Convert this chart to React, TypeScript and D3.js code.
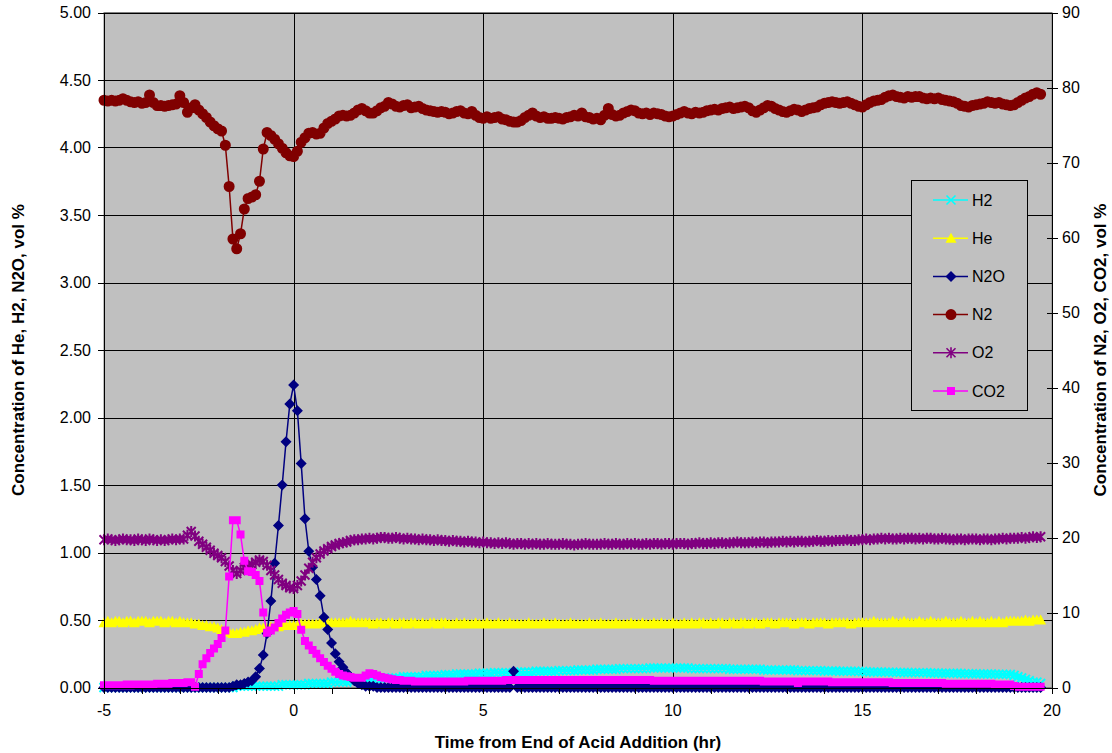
import * as d3 from 'd3';
import { useEffect, useRef } from 'react';

// samples every 0.1 hr starting at -5 hr (one row per hour)
const START_HR = -5;
const STEP_HR = 0.1;

// left axis, vol %
const h2 = [
  0, 0, 0, 0, 0, 0, 0, 0, 0, 0,
  0, 0, 0, 0, 0, 0, 0, 0, 0, 0,
  0, 0, 0, 0, 0, 0, 0, 0, 0, 0,
  0, 0, 0, 0, 0, 0.01, 0.01, 0.01, 0.01, 0.01,
  0.01, 0.01, 0.01, 0.01, 0.01, 0.01, 0.01, 0.02, 0.02, 0.02,
  0.02, 0.02, 0.02, 0.02, 0.03, 0.03, 0.03, 0.03, 0.03, 0.03,
  0.04, 0.04, 0.04, 0.04, 0.04, 0.05, 0.05, 0.05, 0.05, 0.05,
  0.06, 0.06, 0.06, 0.06, 0.07, 0.07, 0.07, 0.07, 0.07, 0.08,
  0.08, 0.08, 0.08, 0.08, 0.08, 0.09, 0.09, 0.09, 0.09, 0.09,
  0.095, 0.095, 0.095, 0.1, 0.1, 0.1, 0.1, 0.1, 0.1, 0.105,
  0.105, 0.105, 0.105, 0.11, 0.11, 0.11, 0.11, 0.11, 0.11, 0.11,
  0.115, 0.115, 0.115, 0.115, 0.12, 0.12, 0.12, 0.12, 0.12, 0.12,
  0.125, 0.125, 0.125, 0.125, 0.125, 0.13, 0.13, 0.13, 0.13, 0.13,
  0.135, 0.135, 0.135, 0.135, 0.135, 0.135, 0.14, 0.14, 0.14, 0.14,
  0.14, 0.14, 0.14, 0.14, 0.145, 0.145, 0.145, 0.145, 0.145, 0.145,
  0.145, 0.145, 0.145, 0.145, 0.145, 0.14, 0.14, 0.14, 0.14, 0.14,
  0.14, 0.14, 0.14, 0.14, 0.14, 0.135, 0.135, 0.135, 0.135, 0.135,
  0.135, 0.135, 0.135, 0.135, 0.13, 0.13, 0.13, 0.13, 0.13, 0.13,
  0.13, 0.13, 0.13, 0.125, 0.125, 0.125, 0.125, 0.125, 0.125, 0.125,
  0.122, 0.122, 0.122, 0.122, 0.12, 0.12, 0.12, 0.12, 0.12, 0.118,
  0.118, 0.117, 0.116, 0.115, 0.115, 0.115, 0.114, 0.114, 0.113, 0.112,
  0.112, 0.111, 0.111, 0.11, 0.11, 0.11, 0.11, 0.109, 0.108, 0.108,
  0.107, 0.106, 0.106, 0.105, 0.105, 0.105, 0.104, 0.103, 0.103, 0.102,
  0.102, 0.101, 0.1, 0.1, 0.1, 0.099, 0.098, 0.098, 0.097, 0.096,
  0.09, 0.08, 0.07, 0.06, 0.05, 0.04, 0.04, 0.03
];

const he = [
  0.48, 0.49, 0.48, 0.49, 0.49, 0.48, 0.49, 0.49, 0.48, 0.49,
  0.49, 0.49, 0.48, 0.49, 0.49, 0.49, 0.48, 0.49, 0.49, 0.48,
  0.49, 0.48, 0.48, 0.48, 0.47, 0.47, 0.46, 0.46, 0.45, 0.45,
  0.44, 0.43, 0.42, 0.41, 0.4, 0.4, 0.41, 0.41, 0.42, 0.42,
  0.43, 0.44, 0.44, 0.44, 0.45, 0.45, 0.45, 0.46, 0.46, 0.46,
  0.46, 0.46, 0.47, 0.47, 0.47, 0.47, 0.47, 0.48, 0.48, 0.48,
  0.48, 0.48, 0.48, 0.48, 0.48, 0.49, 0.48, 0.48, 0.48, 0.48,
  0.48, 0.47, 0.48, 0.48, 0.47, 0.48, 0.48, 0.47, 0.48, 0.48,
  0.47, 0.48, 0.48, 0.47, 0.48, 0.47, 0.48, 0.48, 0.47, 0.48,
  0.48, 0.47, 0.47, 0.48, 0.47, 0.48, 0.47, 0.47, 0.48, 0.47,
  0.47, 0.48, 0.47, 0.47, 0.48, 0.47, 0.47, 0.48, 0.47, 0.47,
  0.47, 0.47, 0.48, 0.47, 0.47, 0.47, 0.48, 0.47, 0.47, 0.48,
  0.47, 0.47, 0.47, 0.48, 0.47, 0.47, 0.47, 0.47, 0.48, 0.47,
  0.47, 0.48, 0.47, 0.47, 0.47, 0.48, 0.47, 0.47, 0.47, 0.48,
  0.47, 0.47, 0.48, 0.47, 0.47, 0.48, 0.47, 0.48, 0.47, 0.47,
  0.48, 0.47, 0.47, 0.48, 0.47, 0.48, 0.47, 0.48, 0.48, 0.47,
  0.48, 0.47, 0.48, 0.48, 0.47, 0.48, 0.48, 0.47, 0.48, 0.48,
  0.47, 0.48, 0.48, 0.47, 0.48, 0.48, 0.48, 0.47, 0.48, 0.48,
  0.48, 0.48, 0.47, 0.48, 0.48, 0.48, 0.47, 0.48, 0.48, 0.48,
  0.48, 0.47, 0.48, 0.48, 0.48, 0.48, 0.48, 0.47, 0.48, 0.48,
  0.48, 0.48, 0.48, 0.49, 0.48, 0.48, 0.48, 0.48, 0.49, 0.48,
  0.48, 0.49, 0.48, 0.48, 0.48, 0.49, 0.48, 0.48, 0.49, 0.48,
  0.48, 0.48, 0.49, 0.48, 0.48, 0.48, 0.49, 0.48, 0.48, 0.49,
  0.48, 0.49, 0.48, 0.48, 0.49, 0.48, 0.49, 0.48, 0.49, 0.49,
  0.49, 0.49, 0.49, 0.5, 0.49, 0.5, 0.5, 0.5
];

const n2o = [
  0, 0, 0, 0, 0, 0, 0, 0, 0, 0,
  0, 0, 0, 0, 0, 0, 0, 0, 0, 0,
  0, 0, 0, 0, 0, 0, 0, 0, 0, 0,
  0, 0, 0, 0, 0.01, 0.02, 0.02, 0.03, 0.04, 0.05,
  0.08, 0.14, 0.24, 0.4, 0.64, 0.92, 1.2, 1.5, 1.82, 2.1,
  2.24, 2.05, 1.66, 1.25, 1.01, 0.89, 0.8, 0.68, 0.52, 0.43,
  0.33, 0.25, 0.19, 0.15, 0.11, 0.08, 0.05, 0.03, 0.02, 0.01,
  0.01, 0.01, 0, 0, 0, 0, 0, 0, 0, 0,
  0, 0, 0, 0, 0, 0, 0, 0, 0, 0,
  0, 0, 0, 0, 0, 0, 0, 0, 0, 0,
  0, 0, 0, 0, 0, 0, 0, 0, 0.12, 0,
  0, 0, 0, 0, 0, 0, 0, 0, 0, 0,
  0, 0, 0, 0, 0, 0, 0, 0, 0, 0,
  0, 0, 0, 0, 0, 0, 0, 0, 0, 0,
  0, 0, 0, 0, 0, 0, 0, 0, 0, 0,
  0, 0, 0, 0, 0, 0, 0, 0, 0, 0,
  0, 0, 0, 0, 0, 0, 0, 0, 0, 0,
  0, 0, 0, 0, 0, 0, 0, 0, 0, 0,
  0, 0, 0, 0, 0, 0, 0, 0, 0, 0,
  0, 0, 0, 0, 0, 0, 0, 0, 0, 0,
  0, 0, 0, 0, 0, 0, 0, 0, 0, 0,
  0, 0, 0, 0, 0, 0, 0, 0, 0, 0,
  0, 0, 0, 0, 0, 0, 0, 0, 0, 0,
  0, 0, 0, 0, 0, 0, 0, 0, 0, 0,
  0, 0, 0, 0, 0, 0, 0, 0
];

// right axis, vol %
const n2 = [
  78.3, 78.2, 78.3, 78.2, 78.3, 78.5, 78.3, 78.1, 78.0, 78.1,
  77.9, 78.0, 79.0, 78.0, 77.6, 77.6, 77.5, 77.6, 77.7, 77.8,
  78.9, 78.0, 76.7, 77.3, 77.7, 77.0, 76.5, 76.0, 75.4, 74.9,
  74.5, 74.2, 72.3, 66.8, 59.8, 58.5, 60.5, 63.8, 65.2, 65.4,
  65.7, 67.5, 71.8, 74.0, 73.6, 73.1, 72.5, 71.9, 71.3, 70.9,
  70.8, 71.5, 72.7, 73.3, 73.9, 74.0, 73.8, 73.9, 74.6, 75.2,
  75.5, 75.8, 76.2, 76.3, 76.2, 76.3, 76.6, 77.0, 77.2, 76.9,
  76.6, 76.6, 76.9, 77.3, 77.5, 78.0, 77.8, 77.5, 77.4, 77.6,
  77.7, 77.3, 77.4, 77.5, 77.2, 77.0, 76.9, 76.8, 76.7, 76.8,
  76.7, 76.5, 76.6, 76.8, 76.9, 76.6, 76.5, 76.8, 76.3, 76.0,
  75.9, 76.1, 75.9, 76.0, 76.1, 75.8, 75.7, 75.5, 75.4, 75.4,
  75.6, 76.0, 76.3, 76.6, 76.2, 76.0, 76.1, 75.9, 75.9, 76.0,
  75.9, 75.8, 76.0, 76.1, 76.3, 76.2, 76.6, 76.1, 76.0, 75.8,
  75.9, 75.7, 76.3, 77.2, 76.4, 76.2, 76.3, 76.6, 76.8, 77.0,
  76.9, 76.6, 76.5, 76.6, 76.4, 76.6, 76.5, 76.4, 76.2, 76.1,
  76.2, 76.4, 76.6, 76.8, 76.6, 76.5, 76.7, 76.6, 76.7, 76.9,
  77.0, 77.1, 77.0, 77.2, 77.3, 77.4, 77.2, 77.3, 77.4, 77.5,
  77.3, 76.9, 76.7, 77.0, 77.3, 77.6, 77.5, 77.2, 77.0, 76.8,
  76.7, 76.9, 77.1, 77.0, 76.8, 77.0, 77.2, 77.3, 77.4, 77.7,
  77.9, 78.0, 78.1, 78.0, 77.9, 78.0, 78.1, 77.9, 77.7, 77.5,
  77.4, 77.7, 78.0, 78.2, 78.3, 78.4, 78.7, 78.9, 79.0, 78.8,
  78.7, 78.6, 78.8, 78.7, 78.8, 78.8, 78.6, 78.5, 78.6, 78.5,
  78.6, 78.4, 78.3, 78.2, 78.1, 77.9, 77.6, 77.5, 77.4, 77.6,
  77.7, 77.8, 77.9, 78.1, 78.0, 77.9, 78.0, 77.8, 77.7, 77.6,
  77.7, 78.0, 78.3, 78.6, 78.8, 79.1, 79.3, 79.1
];

const o2 = [
  19.7, 19.8, 19.7, 19.6, 19.7, 19.8, 19.7, 19.7, 19.6, 19.8,
  19.7, 19.6, 19.8, 19.7, 19.6, 19.7, 19.6, 19.7, 19.8, 19.7,
  19.8, 19.8, 20.3, 20.8, 20.2, 19.5, 19.1, 18.7, 18.3, 17.9,
  17.6, 17.3, 16.8, 16.2, 15.6, 15.2, 15.6, 16.0, 16.3, 16.4,
  16.7, 17.0, 16.8, 16.3, 15.6, 15.0, 14.4, 13.9, 13.6, 13.3,
  13.2, 13.6, 14.2, 15.0, 15.9, 16.7, 17.3, 17.8, 18.2, 18.5,
  18.8, 19.0, 19.2, 19.3, 19.4, 19.6, 19.7, 19.7, 19.8, 19.8,
  19.9, 19.8, 19.9, 20.0, 20.0, 19.9, 19.9, 20.0, 19.9, 19.8,
  19.9, 19.8, 19.8, 19.7, 19.8, 19.7, 19.7, 19.6, 19.7, 19.6,
  19.6, 19.5, 19.6, 19.5, 19.5, 19.4, 19.5, 19.4, 19.4, 19.3,
  19.4, 19.3, 19.3, 19.2, 19.3, 19.2, 19.3, 19.2, 19.1, 19.2,
  19.2, 19.1, 19.2, 19.1, 19.2, 19.1, 19.1, 19.2, 19.1, 19.1,
  19.1, 19.2, 19.1, 19.1, 19.0, 19.1, 19.1, 19.2, 19.1, 19.1,
  19.1, 19.1, 19.2, 19.1, 19.1, 19.2, 19.1, 19.1, 19.2, 19.1,
  19.2, 19.1, 19.1, 19.2, 19.1, 19.2, 19.2, 19.1, 19.2, 19.2,
  19.1, 19.2, 19.2, 19.2, 19.1, 19.2, 19.2, 19.3, 19.2, 19.2,
  19.3, 19.2, 19.3, 19.3, 19.2, 19.3, 19.3, 19.4, 19.3, 19.3,
  19.3, 19.4, 19.3, 19.4, 19.4, 19.3, 19.4, 19.4, 19.4, 19.5,
  19.4, 19.5, 19.4, 19.5, 19.5, 19.4, 19.5, 19.5, 19.6, 19.5,
  19.5, 19.6, 19.5, 19.6, 19.6, 19.6, 19.7, 19.6, 19.6, 19.7,
  19.7, 19.8, 19.7, 19.8, 19.8, 19.9, 19.8, 19.9, 19.8, 19.8,
  19.9, 19.8, 19.9, 19.9, 19.8, 19.9, 19.8, 19.9, 19.9, 19.8,
  19.8, 19.9, 19.8, 19.8, 19.7, 19.8, 19.8, 19.7, 19.8, 19.8,
  19.8, 19.7, 19.8, 19.8, 19.7, 19.8, 19.8, 19.9, 19.8, 19.9,
  19.9, 19.9, 20.0, 19.9, 20.0, 20.1, 20.0, 20.1
];

const co2 = [
  0.3, 0.3, 0.3, 0.3, 0.3, 0.3, 0.4, 0.3, 0.4, 0.4,
  0.4, 0.4, 0.4, 0.4, 0.5, 0.5, 0.5, 0.5, 0.6, 0.6,
  0.6, 0.6, 0.7, 0.7, 0.1, 1.8, 3.1, 3.9, 4.6, 5.2,
  5.8, 6.6, 7.6, 14.8, 22.3, 22.3, 20.4, 16.9, 15.5, 15.4,
  15.0, 14.2, 10.0, 7.3, 7.6, 8.0, 8.6, 9.2, 9.7, 10.0,
  10.2, 9.8, 7.7, 6.2, 5.6, 5.0, 4.5, 3.9, 3.4, 2.9,
  2.5, 2.1, 1.8, 1.6, 1.5, 1.4, 1.3, 1.3, 1.3, 1.6,
  1.9, 1.8, 1.6, 1.4, 1.3, 1.2, 1.1, 1.0, 1.0, 0.9,
  0.9, 0.9, 0.8, 0.8, 0.8, 0.8, 0.8, 0.8, 0.8, 0.8,
  0.8, 0.8, 0.8, 0.8, 0.8, 0.8, 0.9, 0.9, 0.9, 0.9,
  0.9, 0.9, 0.9, 0.9, 0.9, 0.9, 1.0, 1.0, 1.0, 1.0,
  1.0, 1.0, 1.0, 1.0, 1.0, 1.0, 1.0, 1.0, 1.0, 1.0,
  1.0, 1.0, 1.0, 1.0, 1.0, 1.0, 1.0, 1.0, 1.0, 1.0,
  1.0, 1.0, 1.0, 1.0, 1.0, 1.0, 1.0, 1.0, 1.0, 1.0,
  1.0, 1.0, 1.0, 1.0, 1.0, 0.9, 0.9, 0.9, 0.9, 0.9,
  0.9, 0.9, 0.9, 0.9, 0.9, 0.9, 0.9, 0.9, 0.9, 0.9,
  0.9, 0.9, 0.9, 0.9, 0.9, 0.9, 0.9, 0.9, 0.9, 0.9,
  0.9, 0.9, 0.9, 0.9, 0.8, 0.8, 0.8, 0.8, 0.8, 0.8,
  0.8, 0.8, 0.8, 0.6, 0.8, 0.8, 0.8, 0.8, 0.8, 0.8,
  0.8, 0.8, 0.7, 0.7, 0.7, 0.7, 0.7, 0.7, 0.7, 0.7,
  0.7, 0.7, 0.7, 0.7, 0.7, 0.7, 0.7, 0.7, 0.6, 0.6,
  0.6, 0.6, 0.6, 0.6, 0.6, 0.6, 0.6, 0.6, 0.6, 0.6,
  0.6, 0.6, 0.5, 0.5, 0.5, 0.5, 0.5, 0.5, 0.5, 0.5,
  0.5, 0.5, 0.5, 0.5, 0.5, 0.4, 0.4, 0.4, 0.4, 0.4,
  0.2, 0.1, 0.1, 0.1, 0.1, 0.1, 0.1, 0.1
];

const xTicks = [-5, 0, 5, 10, 15, 20];
const xMinorTicks = d3.range(-5, 21, 1);
const leftTicks = [0, 0.5, 1, 1.5, 2, 2.5, 3, 3.5, 4, 4.5, 5];
const rightTicks = [0, 10, 20, 30, 40, 50, 60, 70, 80, 90];

const series = [
  { name: 'H2', values: h2, color: '#00FFFF', axis: 'left', marker: 'x' },
  { name: 'He', values: he, color: '#FFFF00', axis: 'left', marker: 'triangle' },
  { name: 'N2O', values: n2o, color: '#000080', axis: 'left', marker: 'diamond' },
  { name: 'N2', values: n2, color: '#800000', axis: 'right', marker: 'circle' },
  { name: 'O2', values: o2, color: '#800080', axis: 'right', marker: 'star' },
  { name: 'CO2', values: co2, color: '#FF00FF', axis: 'right', marker: 'square' }
];

const FONT = '"Liberation Sans", Arial, sans-serif';

function markerPath(kind: string, x: number, y: number) {
  switch (kind) {
    case 'x':
      return `M${x - 4.5},${y - 4.5}L${x + 4.5},${y + 4.5}M${x - 4.5},${y + 4.5}L${x + 4.5},${y - 4.5}`;
    case 'star':
      return `M${x - 4.5},${y - 4.5}L${x + 4.5},${y + 4.5}M${x - 4.5},${y + 4.5}L${x + 4.5},${y - 4.5}M${x},${y - 5.5}L${x},${y + 5.5}`;
    case 'triangle':
      return `M${x},${y - 5.5}L${x + 5.5},${y + 4.5}L${x - 5.5},${y + 4.5}Z`;
    case 'diamond':
      return `M${x},${y - 5.5}L${x + 5.5},${y}L${x},${y + 5.5}L${x - 5.5},${y}Z`;
    case 'square':
      return `M${x - 4},${y - 4}h8v8h-8Z`;
    default:
      return `M${x - 5.5},${y}a5.5,5.5 0 1,0 11,0a5.5,5.5 0 1,0 -11,0`;
  }
}

function isStroked(kind: string) {
  return kind === 'x' || kind === 'star';
}

export default function App() {
  const ref = useRef<SVGSVGElement>(null);

  useEffect(() => {
    const width = 1112;
    const height = 753;
    const left = 104, right = 1052, top = 12.5, bottom = 687.5;

    const svg = d3.select(ref.current);
    svg.selectAll('*').remove();
    svg.attr('width', width).attr('height', height);

    const x = d3.scaleLinear().domain([-5, 20]).range([left, right]);
    const yL = d3.scaleLinear().domain([0, 5]).range([bottom, top]);
    const yR = d3.scaleLinear().domain([0, 90]).range([bottom, top]);
    const crisp = (v: number) => Math.round(v) + 0.5;

    const time = n2.map((_, i) => START_HR + i * STEP_HR);

    // Plot area
    svg.append('rect')
      .attr('x', left)
      .attr('y', top)
      .attr('width', right - left)
      .attr('height', bottom - top)
      .attr('fill', '#C0C0C0')
      .attr('stroke', '#808080')
      .attr('stroke-width', 1);

    // Gridlines
    const grid = svg.append('g').attr('stroke', '#000').attr('stroke-width', 1).attr('shape-rendering', 'crispEdges');
    leftTicks.forEach(t => {
      grid.append('line').attr('x1', left).attr('x2', right).attr('y1', crisp(yL(t))).attr('y2', crisp(yL(t)));
    });
    xTicks.forEach(t => {
      grid.append('line').attr('x1', crisp(x(t))).attr('x2', crisp(x(t))).attr('y1', top).attr('y2', bottom);
    });

    // Series
    const plot = svg.append('g');
    series.forEach(s => {
      const yS = s.axis === 'left' ? yL : yR;
      const line = d3.line<number>()
        .x((_, i) => x(time[i]))
        .y(d => yS(d));
      plot.append('path')
        .attr('d', line(s.values))
        .attr('fill', 'none')
        .attr('stroke', s.color)
        .attr('stroke-width', 1.5);
      const d = s.values.map((v, i) => markerPath(s.marker, x(time[i]), yS(v))).join('');
      plot.append('path')
        .attr('d', d)
        .attr('fill', isStroked(s.marker) ? 'none' : s.color)
        .attr('stroke', isStroked(s.marker) ? s.color : 'none')
        .attr('stroke-width', isStroked(s.marker) ? 2 : 0);
    });

    // Axes
    const axes = svg.append('g').attr('stroke', '#000').attr('stroke-width', 1).attr('shape-rendering', 'crispEdges');
    axes.append('line').attr('x1', crisp(left)).attr('x2', crisp(left)).attr('y1', top).attr('y2', bottom);
    axes.append('line').attr('x1', crisp(right)).attr('x2', crisp(right)).attr('y1', top).attr('y2', bottom + 1);
    axes.append('line').attr('x1', left).attr('x2', right).attr('y1', crisp(bottom)).attr('y2', crisp(bottom));
    leftTicks.forEach(t => {
      axes.append('line').attr('x1', left - 6).attr('x2', left).attr('y1', crisp(yL(t))).attr('y2', crisp(yL(t)));
    });
    rightTicks.forEach(t => {
      axes.append('line').attr('x1', right - 5).attr('x2', right + 6).attr('y1', crisp(yR(t))).attr('y2', crisp(yR(t)));
    });
    xMinorTicks.forEach(t => {
      axes.append('line').attr('x1', crisp(x(t))).attr('x2', crisp(x(t))).attr('y1', bottom).attr('y2', bottom + 6);
    });

    const labels = svg.append('g').attr('font-family', FONT).attr('fill', '#000');
    leftTicks.forEach(t => {
      labels.append('text')
        .attr('x', 91)
        .attr('y', yL(t))
        .attr('dy', '0.35em')
        .attr('text-anchor', 'end')
        .attr('font-size', 16)
        .text(d3.format('.2f')(t));
    });
    rightTicks.forEach(t => {
      labels.append('text')
        .attr('x', 1062)
        .attr('y', yR(t))
        .attr('dy', '0.35em')
        .attr('text-anchor', 'start')
        .attr('font-size', 16)
        .text(t);
    });
    xTicks.forEach(t => {
      labels.append('text')
        .attr('x', x(t))
        .attr('y', 716)
        .attr('text-anchor', 'middle')
        .attr('font-size', 16)
        .text(t);
    });

    // Axis titles
    labels.append('text')
      .attr('x', (left + right) / 2)
      .attr('y', 748)
      .attr('text-anchor', 'middle')
      .attr('font-size', 17)
      .attr('font-weight', 'bold')
      .text('Time from End of Acid Addition (hr)');
    labels.append('text')
      .attr('transform', `translate(24,${(top + bottom) / 2}) rotate(-90)`)
      .attr('text-anchor', 'middle')
      .attr('font-size', 17)
      .attr('font-weight', 'bold')
      .text('Concentration of He, H2, N2O, vol %');
    labels.append('text')
      .attr('transform', `translate(1106,${(top + bottom) / 2}) rotate(-90)`)
      .attr('text-anchor', 'middle')
      .attr('font-size', 17)
      .attr('font-weight', 'bold')
      .text('Concentration of N2, O2, CO2, vol %');

    // Legend
    const legend = svg.append('g');
    legend.append('rect')
      .attr('x', 911.5)
      .attr('y', 180.5)
      .attr('width', 116)
      .attr('height', 230)
      .attr('fill', '#C0C0C0')
      .attr('stroke', '#000')
      .attr('stroke-width', 1);
    series.forEach((s, i) => {
      const ly = 200 + i * 38.2;
      legend.append('line')
        .attr('x1', 933).attr('x2', 968)
        .attr('y1', ly).attr('y2', ly)
        .attr('stroke', s.color)
        .attr('stroke-width', 1.5);
      legend.append('path')
        .attr('d', markerPath(s.marker, 951, ly))
        .attr('fill', isStroked(s.marker) ? 'none' : s.color)
        .attr('stroke', isStroked(s.marker) ? s.color : 'none')
        .attr('stroke-width', isStroked(s.marker) ? 1.6 : 0);
      legend.append('text')
        .attr('x', 972)
        .attr('y', ly)
        .attr('dy', '0.35em')
        .attr('font-family', FONT)
        .attr('font-size', 16)
        .text(s.name);
    });
  }, []);

  return (
    <div style={{ position: 'absolute', left: 0, top: 0 }}>
      <svg ref={ref} width={1112} height={753} style={{ display: 'block' }}></svg>
    </div>
  );
}
